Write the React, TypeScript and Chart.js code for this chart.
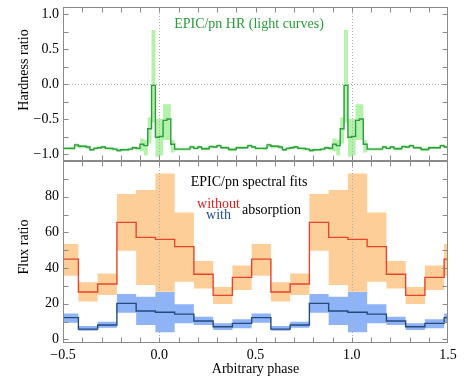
import { useEffect, useRef } from "react";
import { Chart, registerables } from "chart.js";

Chart.register(...registerables);

// ---------- axis ranges / ticks ----------
const phaseMin = -0.5;
const phaseMax = 1.5;
const phaseTicks = [-0.5, 0, 0.5, 1.0, 1.5];
const phaseMinorStep = 0.1;
const hrMin = -1.1;
const hrMax = 1.1;
const hrTicks = [-1.0, -0.5, 0.0, 0.5, 1.0];
const hrMinorStep = 0.25;
const fluxMin = -2;
const fluxMax = 100;
const fluxTicks = [0, 20, 40, 60, 80];
const fluxMinorStep = 10;
const refPhases = [0, 1];

// ---------- HR light curve: one period (-0.5 .. 0.5), bins of 0.02 ----------
const hrBinStart = -0.5;
const hrBinWidth = 0.02;
const hrPeriods = 2;
const hrValue = [
  -0.92, -0.92, -0.92, -0.87, -0.89, -0.89, -0.9, -0.94, -0.92, -0.91,
  -0.9, -0.92, -0.92, -0.93, -0.95, -0.94, -0.94, -0.93, -0.91, -0.92,
  -0.86, -0.88, -0.64, -0.02, -0.76, -0.75, -0.52, -0.5, -0.86, -0.93,
  -0.93, -0.93, -0.93, -0.9, -0.92, -0.9, -0.925, -0.925, -0.895, -0.9,
  -0.88, -0.91, -0.91, -0.935, -0.935, -0.91, -0.91, -0.91, -0.88, -0.9,
];
const hrHigh = [
  -0.9, -0.9, -0.9, -0.85, -0.87, -0.87, -0.88, -0.92, -0.9, -0.89,
  -0.88, -0.9, -0.9, -0.91, -0.93, -0.92, -0.92, -0.91, -0.89, -0.9,
  -0.78, -0.8, -0.48, 0.77, -0.5, -0.5, -0.29, -0.29, -0.8, -0.91,
  -0.91, -0.91, -0.91, -0.88, -0.9, -0.88, -0.9, -0.9, -0.87, -0.88,
  -0.86, -0.89, -0.89, -0.91, -0.91, -0.89, -0.89, -0.89, -0.86, -0.88,
];
const hrLow = [
  -0.94, -0.94, -0.945, -0.9, -0.92, -0.91, -0.93, -0.96, -0.94, -0.93,
  -0.92, -0.94, -0.95, -0.95, -0.97, -0.96, -0.96, -0.95, -0.93, -0.95,
  -0.96, -1.02, -0.85, -0.55, -1.04, -1.02, -0.8, -0.8, -0.98, -0.95,
  -0.95, -0.95, -0.95, -0.92, -0.94, -0.92, -0.95, -0.95, -0.92, -0.92,
  -0.9, -0.93, -0.93, -0.96, -0.96, -0.93, -0.93, -0.93, -0.9, -0.92,
];

// ---------- spectral fits: bin starts, one period of values (first bin = phase 0.48 ≡ -0.52) ----------
const fluxBinStarts = [
  -0.5, -0.42, -0.32, -0.22, -0.12, -0.02, 0.08, 0.18, 0.28, 0.38,
  0.48, 0.58, 0.68, 0.78, 0.88, 0.98, 1.08, 1.18, 1.28, 1.38, 1.48,
];
const withoutAbs = [45.0, 26.6, 31.1, 65.6, 57.2, 56.1, 52.0, 36.5, 24.7, 34.8];
const withoutHigh = [53.5, 32.0, 37.0, 81.5, 83.7, 93.0, 71.2, 44.0, 29.4, 41.5];
const withoutLow = [35.7, 21.3, 24.9, 49.7, 30.5, 26.7, 32.3, 28.6, 19.8, 27.7];
const withAbs = [12.2, 5.8, 8.1, 20.2, 15.9, 15.2, 14.2, 10.3, 7.1, 9.0];
const withHigh = [14.6, 7.5, 9.9, 25.4, 23.9, 26.6, 19.7, 12.7, 9.0, 11.3];
const withLow = [9.4, 4.9, 6.6, 15.0, 8.1, 4.0, 9.0, 8.1, 5.3, 6.2];

// ---------- styling ----------
const FONT = '"Liberation Serif", "Times New Roman", serif';
const frameColor = "#8a8a8a";
const dotColor = "#b0b0b0";
const hrLineColor = "#2c9c3c";
const hrBandColor = "#b3f2aa";
const redLine = "#e4452f";
const orangeBand = "#fece99";
const blueLine = "#244a7c";
const blueBand = "#8fb3f7";
const BOT_TOP = 158; // page offset of the lower canvas

type Pt = { x: number; y: number };

function hrSeries(vals: number[]): Pt[] {
  const pts: Pt[] = [];
  const n = vals.length * hrPeriods;
  for (let i = 0; i < n; i++) {
    pts.push({ x: hrBinStart + hrBinWidth * i, y: vals[i % vals.length] });
  }
  pts.push({ x: phaseMax, y: vals[(n - 1) % vals.length] });
  return pts;
}

function fluxSeries(vals: number[]): Pt[] {
  const pts: Pt[] = fluxBinStarts.map((x, i) => ({ x, y: vals[i % vals.length] }));
  pts.push({ x: phaseMax, y: vals[(fluxBinStarts.length - 1) % vals.length] });
  return pts;
}

function fmtPhase(v: number): string {
  const s = Math.abs(v).toFixed(1);
  return v < -1e-9 ? "\u2212" + s : s;
}

function stepRange(min: number, max: number, step: number): number[] {
  const out: number[] = [];
  const n = Math.round((max - min) / step);
  for (let i = 0; i <= n; i++) out.push(+(min + i * step).toFixed(6));
  return out;
}

type TextItem = { text: string; x: number; y: number; color: string; size: number };

function decorPlugin(cfg: {
  yId: string;
  yMinor: number[];
  hLines: number[];
  texts: TextItem[];
  yTitle: { text: string; x: number; y: number };
  offsetY: number;
}) {
  const xMinor = stepRange(phaseMin, phaseMax, phaseMinorStep);
  return {
    id: "decor",
    beforeDatasetsDraw(chart: any) {
      const { ctx, chartArea: a } = chart;
      const xs = chart.scales.x;
      const ys = chart.scales[cfg.yId];
      ctx.save();
      ctx.strokeStyle = dotColor;
      ctx.lineWidth = 1;
      ctx.setLineDash([1, 2]);
      refPhases.forEach((p) => {
        const px = Math.round(xs.getPixelForValue(p)) + 0.5;
        ctx.beginPath();
        ctx.moveTo(px, a.top);
        ctx.lineTo(px, a.bottom);
        ctx.stroke();
      });
      cfg.hLines.forEach((v) => {
        const py = Math.round(ys.getPixelForValue(v)) + 0.5;
        ctx.beginPath();
        ctx.moveTo(a.left, py);
        ctx.lineTo(a.right, py);
        ctx.stroke();
      });
      ctx.restore();
    },
    afterDatasetsDraw(chart: any) {
      const { ctx, chartArea: a } = chart;
      const xs = chart.scales.x;
      const ys = chart.scales[cfg.yId];
      const L = Math.round(a.left) + 0.5;
      const R = Math.round(a.right) - 0.5;
      const T = Math.round(a.top) + 0.5;
      const B = Math.round(a.bottom) - 0.5;
      ctx.save();
      ctx.strokeStyle = frameColor;
      ctx.lineWidth = 1;
      ctx.setLineDash([]);
      ctx.strokeRect(L, T, R - L, B - T);
      const tl = 5;
      ctx.beginPath();
      xMinor.forEach((v) => {
        const px = Math.round(xs.getPixelForValue(v)) + 0.5;
        if (px <= L + 1 || px >= R - 1) return;
        ctx.moveTo(px, B);
        ctx.lineTo(px, B - tl);
        ctx.moveTo(px, T);
        ctx.lineTo(px, T + tl);
      });
      cfg.yMinor.forEach((v) => {
        const py = Math.round(ys.getPixelForValue(v)) + 0.5;
        if (py <= T + 1 || py >= B - 1) return;
        ctx.moveTo(L, py);
        ctx.lineTo(L + tl, py);
        ctx.moveTo(R, py);
        ctx.lineTo(R - tl, py);
      });
      ctx.stroke();
      ctx.restore();
    },
    afterDraw(chart: any) {
      const { ctx } = chart;
      ctx.save();
      ctx.textAlign = "center";
      ctx.textBaseline = "middle";
      cfg.texts.forEach((t) => {
        ctx.font = `${t.size}px ${FONT}`;
        ctx.fillStyle = t.color;
        ctx.fillText(t.text, t.x, t.y - cfg.offsetY);
      });
      ctx.translate(cfg.yTitle.x, cfg.yTitle.y - cfg.offsetY);
      ctx.rotate(-Math.PI / 2);
      ctx.font = `14px ${FONT}`;
      ctx.fillStyle = "#000";
      ctx.fillText(cfg.yTitle.text, 0, 0);
      ctx.restore();
    },
  };
}

function bandDatasets(high: Pt[], low: Pt[], color: string, yAxisID: string) {
  return [
    {
      data: high,
      yAxisID,
      stepped: "before" as const,
      borderWidth: 0,
      borderColor: "rgba(0,0,0,0)",
      backgroundColor: color,
      pointRadius: 0,
      fill: "+1",
      order: 2,
    },
    {
      data: low,
      yAxisID,
      stepped: "before" as const,
      borderWidth: 0,
      borderColor: "rgba(0,0,0,0)",
      pointRadius: 0,
      fill: false,
      order: 2,
    },
  ];
}

function lineDataset(data: Pt[], color: string, yAxisID: string) {
  return {
    data,
    yAxisID,
    stepped: "before" as const,
    borderColor: color,
    borderWidth: 1.4,
    pointRadius: 0,
    fill: false,
    order: 1,
  };
}

const tickFont = { family: FONT, size: 14 };

export default function App() {
  const topRef = useRef<HTMLCanvasElement>(null);
  const botRef = useRef<HTMLCanvasElement>(null);

  useEffect(() => {
    const yFit = (s: any) => {
      s.width = 63;
      s.paddingTop = 0;
      s.paddingBottom = 0;
    };

    const top = new Chart(topRef.current!, {
      type: "line",
      data: {
        datasets: [
          ...bandDatasets(hrSeries(hrHigh), hrSeries(hrLow), hrBandColor, "y"),
          lineDataset(hrSeries(hrValue), hrLineColor, "y"),
        ] as any,
      },
      options: {
        animation: false,
        responsive: false,
        devicePixelRatio: 1,
        layout: { padding: { top: 7, right: 20, bottom: 4, left: 0 } },
        plugins: {
          legend: { display: false },
          tooltip: { enabled: false },
          filler: { drawTime: "beforeDatasetsDraw" } as any,
        },
        scales: {
          x: { type: "linear", min: phaseMin, max: phaseMax, display: false },
          y: {
            type: "linear",
            position: "left",
            min: hrMin,
            max: hrMax,
            grid: { display: false, drawTicks: false },
            border: { display: false },
            afterBuildTicks: (s: any) => {
              s.ticks = hrTicks.map((value) => ({ value }));
            },
            afterFit: yFit,
            ticks: {
              font: tickFont,
              color: "#000",
              padding: 4,
              callback: (v: any) => fmtPhase(Number(v)),
            },
          },
        },
      },
      plugins: [
        decorPlugin({
          yId: "y",
          yMinor: stepRange(-1.0, 1.0, hrMinorStep),
          hLines: [0],
          texts: [{ text: "EPIC/pn HR (light curves)", x: 249, y: 24, color: "#2a9a3c", size: 14 }],
          yTitle: { text: "Hardness ratio", x: 24, y: 70 },
          offsetY: 0,
        }),
      ],
    });

    const bot = new Chart(botRef.current!, {
      type: "line",
      data: {
        datasets: [
          ...bandDatasets(fluxSeries(withoutHigh), fluxSeries(withoutLow), orangeBand, "y"),
          ...bandDatasets(fluxSeries(withHigh), fluxSeries(withLow), blueBand, "y"),
          lineDataset(fluxSeries(withoutAbs), redLine, "y"),
          lineDataset(fluxSeries(withAbs), blueLine, "y"),
        ] as any,
      },
      options: {
        animation: false,
        responsive: false,
        devicePixelRatio: 1,
        layout: { padding: { top: 3, right: 20, bottom: 0, left: 0 } },
        plugins: {
          legend: { display: false },
          tooltip: { enabled: false },
          filler: { drawTime: "beforeDatasetsDraw" } as any,
        },
        scales: {
          x: {
            type: "linear",
            min: phaseMin,
            max: phaseMax,
            grid: { display: false, drawTicks: false },
            border: { display: false },
            afterBuildTicks: (s: any) => {
              s.ticks = phaseTicks.map((value) => ({ value }));
            },
            afterFit: (s: any) => {
              s.height = 35;
              s.paddingLeft = 0;
              s.paddingRight = 0;
            },
            ticks: {
              font: tickFont,
              color: "#000",
              padding: 4,
              autoSkip: false,
              maxRotation: 0,
              callback: (v: any) => fmtPhase(Number(v)),
            },
            title: {
              display: true,
              text: "Arbitrary phase",
              font: tickFont,
              color: "#000",
              padding: { top: 0, bottom: 0 },
            },
          },
          y: {
            type: "linear",
            position: "left",
            min: fluxMin,
            max: fluxMax,
            grid: { display: false, drawTicks: false },
            border: { display: false },
            afterBuildTicks: (s: any) => {
              s.ticks = fluxTicks.map((value) => ({ value }));
            },
            afterFit: yFit,
            ticks: {
              font: tickFont,
              color: "#000",
              padding: 4,
              callback: (v: any) => String(Math.round(Number(v))),
            },
          },
        },
      },
      plugins: [
        decorPlugin({
          yId: "y",
          yMinor: stepRange(0, 90, fluxMinorStep),
          hLines: [],
          texts: [
            { text: "EPIC/pn spectral fits", x: 249, y: 182, color: "#000", size: 14 },
            { text: "without", x: 218.5, y: 204, color: "#dd1c1c", size: 14 },
            { text: "with", x: 218.5, y: 215, color: "#1f4f8f", size: 14 },
            { text: "absorption", x: 271.5, y: 210, color: "#000", size: 14 },
          ],
          yTitle: { text: "Flux ratio", x: 24, y: 247 },
          offsetY: BOT_TOP,
        }),
      ],
    });

    return () => {
      top.destroy();
      bot.destroy();
    };
  }, []);

  return (
    <div
      style={{
        position: "fixed",
        left: 0,
        top: 0,
        width: 468,
        height: 378,
        background: "#fff",
        overflow: "hidden",
      }}
    >
      <canvas
        ref={topRef}
        width={468}
        height={165}
        style={{ position: "absolute", left: 0, top: 0, width: 468, height: 165 }}
      />
      <canvas
        ref={botRef}
        width={468}
        height={220}
        style={{ position: "absolute", left: 0, top: BOT_TOP, width: 468, height: 220 }}
      />
    </div>
  );
}
